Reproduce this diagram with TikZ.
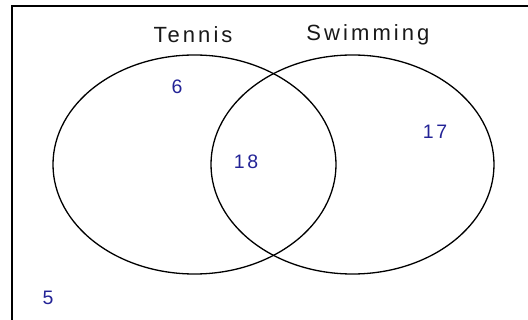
\documentclass[tikz,border=0pt]{standalone}
\usepackage{fontspec}
\newfontfamily\vennfont{Liberation Sans}[LetterSpace=14]
\usepackage{tikz}
\usetikzlibrary{shapes.geometric}
\definecolor{numblue}{RGB}{35,35,150}

\begin{document}
\begin{tikzpicture}[x=1pt, y=-1pt,
    set/.style={draw, ellipse, line width=1.3pt, minimum width=283pt, minimum height=219pt, inner sep=0pt},
    setname/.style={font=\vennfont\fontsize{22}{24}\selectfont, text=black!90},
    count/.style={font=\vennfont\fontsize{19.5}{21}\selectfont, text=numblue}
]
\useasboundingbox (0,0) rectangle (528,320);
\clip (0,0) rectangle (528,320);

% frame (only top and left edges fall inside the picture)
\draw[line width=1.4pt] (12,6) rectangle (560,360);

% the two sets
\node[set] (tennis) at (194.5,164.5) {};
\node[set] (swim) at (352.5,164.5) {};

% set names
\node[setname] (tlabel) at (193,35) {Tennis};
\node[setname] (slabel) at (368,35) {Swimming};

% counts
\node[count] (onlyT) at (177,87) {6};
\node[count] (both) at (246,162) {18};
\node[count] (onlyS) at (435,132) {17};
\node[count] (none) at (48,298) {5};

\end{tikzpicture}
\end{document}
